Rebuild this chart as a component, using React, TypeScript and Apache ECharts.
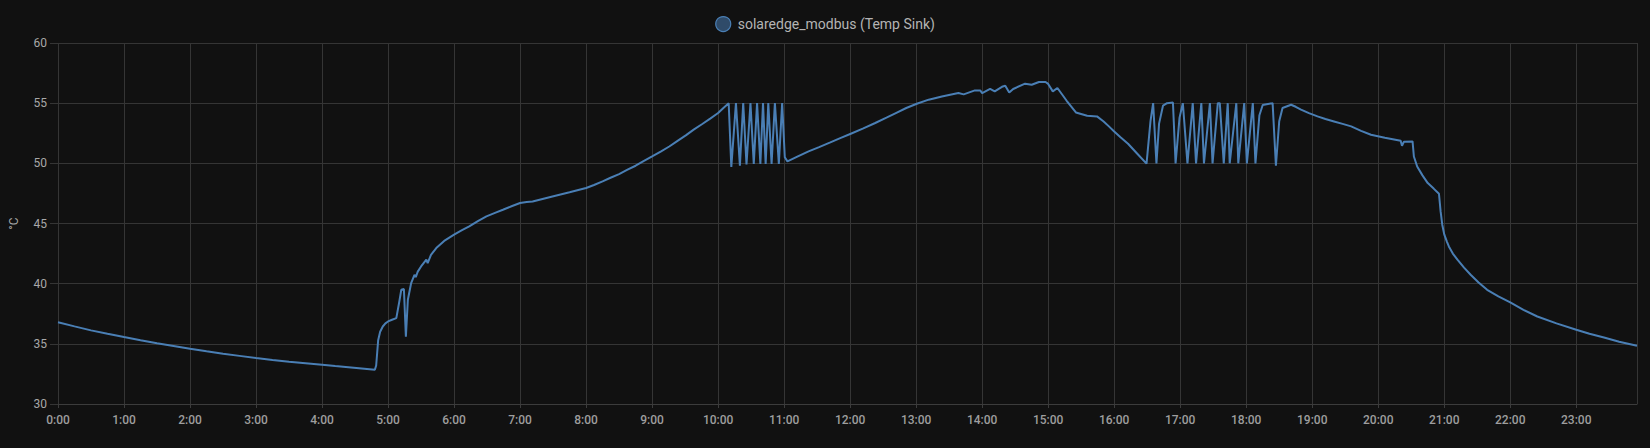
import React, { useEffect, useRef } from "react";
import * as echarts from "echarts";

const seriesName = "solaredge_modbus (Temp Sink)";
const yAxisName = "°C";

// time of day in hours
const times = [
  0.0, 0.25, 0.5, 0.75, 1.0, 1.25, 1.5, 1.75, 2.0, 2.25, 2.5, 2.75, 3.0, 3.25, 3.5, 3.75, 4.0, 4.2, 4.4, 4.6, 4.8,
  4.82, 4.85, 4.88, 4.92, 4.96, 5.0, 5.06, 5.125, 5.17, 5.2, 5.24, 5.27, 5.3, 5.35, 5.4, 5.42, 5.45, 5.5, 5.58, 5.6, 5.65,
  5.73, 5.85, 6.0, 6.12, 6.23, 6.36, 6.49, 6.62, 6.74, 6.87, 7.0, 7.1, 7.19, 7.34, 7.49, 7.75, 8.0, 8.12, 8.25, 8.37,
  8.5, 8.62, 8.75, 8.87, 9.0, 9.13, 9.26, 9.38, 9.51, 9.63, 9.76, 9.88, 10.0, 10.08, 10.16,
  10.17, 10.2, 10.27, 10.33, 10.38, 10.43, 10.49, 10.54, 10.59, 10.64, 10.68, 10.72, 10.76, 10.81, 10.86, 10.92, 10.97,
  11.01, 11.05, 11.2, 11.37, 11.53, 11.7, 11.85, 12.01, 12.2, 12.38, 12.55, 12.7, 12.85, 13.01, 13.19, 13.39, 13.64,
  13.72, 13.89, 13.97, 14.0, 14.12, 14.19, 14.3, 14.35, 14.41, 14.47, 14.65, 14.75, 14.86, 14.96, 15.0, 15.07, 15.14,
  15.28, 15.42, 15.59, 15.74, 15.84, 15.92, 16.0, 16.1, 16.21, 16.35, 16.49,
  16.55, 16.59, 16.64, 16.68, 16.74, 16.8, 16.89, 16.93, 16.99, 17.04, 17.11, 17.19, 17.24, 17.32, 17.36, 17.45, 17.49,
  17.57, 17.6, 17.66, 17.72, 17.75, 17.85, 17.88, 17.97, 18.01, 18.1, 18.14, 18.2, 18.25, 18.4, 18.45, 18.5, 18.55,
  18.68, 18.75, 18.83, 18.95, 19.08, 19.2, 19.33, 19.46, 19.59, 19.74, 19.89, 20.1, 20.34, 20.36, 20.39, 20.52, 20.54,
  20.59, 20.67, 20.75, 20.84, 20.92, 20.945, 20.97, 21.0, 21.04, 21.07, 21.13, 21.2, 21.3, 21.4, 21.52, 21.65, 21.82,
  22.0, 22.2, 22.41, 22.7, 23.0, 23.2, 23.42, 23.65, 23.92,
];

// Temp Sink in °C
const temps = [
  36.8, 36.45, 36.12, 35.83, 35.56, 35.3, 35.05, 34.82, 34.59, 34.38, 34.18, 34.0, 33.82, 33.66, 33.52, 33.39, 33.26, 33.15, 33.05, 32.95, 32.84,
  33.2, 35.3, 36.0, 36.44, 36.7, 36.86, 37.0, 37.14, 38.5, 39.49, 39.55, 35.6, 38.66, 40.05, 40.74, 40.55, 41.0, 41.43, 41.99, 41.7, 42.4,
  42.96, 43.55, 44.07, 44.45, 44.76, 45.2, 45.59, 45.88, 46.14, 46.43, 46.7, 46.78, 46.83, 47.04, 47.25, 47.6, 47.95, 48.2, 48.5, 48.8,
  49.11, 49.45, 49.8, 50.18, 50.57, 50.98, 51.4, 51.85, 52.32, 52.8, 53.27, 53.72, 54.18, 54.6, 55.0,
  55.0, 49.7, 55.0, 49.8, 55.0, 49.9, 55.0, 49.95, 55.0, 49.95, 55.0, 49.95, 55.0, 49.95, 55.0, 49.95, 55.0,
  50.5, 50.16, 50.55, 50.99, 51.35, 51.74, 52.1, 52.46, 52.9, 53.35, 53.8, 54.2, 54.6, 54.95, 55.29, 55.56, 55.84,
  55.73, 56.06, 56.06, 55.84, 56.18, 55.98, 56.36, 56.45, 55.89, 56.18, 56.62, 56.53, 56.76, 56.76, 56.6, 55.98, 56.26,
  55.2, 54.23, 53.96, 53.9, 53.48, 53.07, 52.65, 52.15, 51.63, 50.8, 49.97,
  53.5, 55.0, 50.0, 53.3, 54.8, 55.0, 55.05, 50.0, 53.8, 55.0, 50.0, 55.0, 50.0, 55.0, 50.0, 55.0, 50.0,
  55.0, 55.0, 50.0, 55.0, 50.0, 55.0, 50.0, 55.0, 50.0, 55.0, 50.0, 54.0, 54.85, 55.0, 49.8, 53.5, 54.6,
  54.87, 54.7, 54.46, 54.17, 53.9, 53.68, 53.48, 53.28, 53.07, 52.7, 52.38, 52.13, 51.88, 51.46, 51.8, 51.82, 50.57,
  49.74, 49.0, 48.36, 47.9, 47.47, 46.0, 44.9, 44.1, 43.5, 43.09, 42.5, 41.99, 41.33, 40.74, 40.1, 39.49, 38.95,
  38.44, 37.83, 37.27, 36.7, 36.17, 35.84, 35.53, 35.17, 34.84,
];

const xMin = 0;
const xMax = 23.92;
const yMin = 30;
const yMax = 60;

export default function App() {
  const ref = useRef<HTMLDivElement>(null);

  useEffect(() => {
    document.body.style.margin = "0";
    document.body.style.background = "#111111";
    const chart = echarts.init(ref.current as HTMLDivElement, null, { renderer: "svg" });
    const data = times.map((t, i) => [t, temps[i]]);
    const font = "Roboto, 'Noto Sans', sans-serif";
    chart.setOption({
      animation: false,
      backgroundColor: "#111111",
      textStyle: { fontFamily: font },
      legend: {
        show: true,
        top: 11,
        left: "center",
        icon: "circle",
        itemWidth: 15,
        itemHeight: 15,
        itemStyle: { color: "#2f4b69", borderColor: "#4a7fb5", borderWidth: 1.2 },
        textStyle: { color: "#b4b4b4", fontSize: 14, fontFamily: font, padding: [0, 0, 0, 2] },
        data: [seriesName],
      },
      grid: { left: 54, right: 13, top: 43, bottom: 44, containLabel: false },
      xAxis: {
        type: "value",
        min: xMin,
        max: xMax,
        interval: 1,
        axisLine: { show: true, lineStyle: { color: "#3c3c3c" } },
        axisTick: { show: true, length: 4, lineStyle: { color: "#3c3c3c" } },
        splitLine: { show: true, lineStyle: { color: "#353535", width: 1 } },
        axisLabel: {
          color: "#9e9e9e",
          fontSize: 12,
          fontWeight: 500,
          fontFamily: font,
          margin: 10,
          showMaxLabel: false,
          formatter: (v: number) => `${Math.round(v)}:00`,
        },
      },
      yAxis: {
        type: "value",
        min: yMin,
        max: yMax,
        interval: 5,
        name: yAxisName,
        nameLocation: "middle",
        nameGap: 38,
        nameRotate: 90,
        nameTextStyle: { color: "#a8a8a8", fontSize: 12, fontFamily: font },
        axisLine: { show: false },
        axisTick: { show: true, length: 8, lineStyle: { color: "#353535" } },
        splitLine: { show: true, lineStyle: { color: "#353535", width: 1 } },
        axisLabel: { color: "#a8a8a8", fontSize: 12, fontFamily: font, margin: 11 },
      },
      series: [
        {
          name: seriesName,
          type: "line",
          data,
          showSymbol: false,
          symbol: "none",
          smooth: false,
          color: "#4a7fb5",
          lineStyle: { color: "#4a7fb5", width: 2 },
        },
      ],
    });
    return () => chart.dispose();
  }, []);

  return (
    <div
      ref={ref}
      style={{ position: "fixed", left: 0, top: 0, width: 1650, height: 448, background: "#111111" }}
    />
  );
}
